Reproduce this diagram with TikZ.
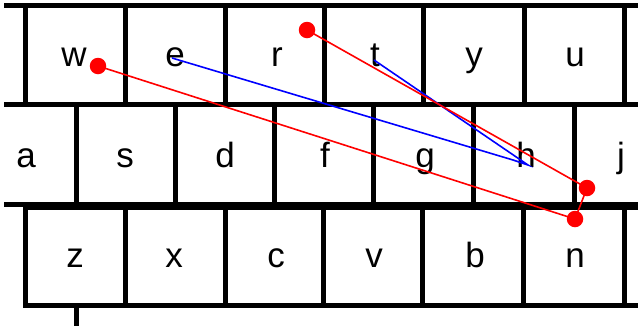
\documentclass[tikz,border=0pt]{standalone}
\usepackage{fontspec}
\setmainfont{Liberation Sans}
\begin{document}
\begin{tikzpicture}[x=1pt,y=-1pt,
  keyedge/.style={draw=black, line width=5pt},
  keylabel/.style={anchor=base, font=\fontsize{35}{40}\selectfont, inner sep=0pt},
  redpath/.style={draw=red, line width=1.6pt},
  bluepath/.style={draw=blue, line width=1.6pt},
  hit/.style={circle, fill=red, minimum size=16.5pt, inner sep=0pt}]
\useasboundingbox (0,0) rectangle (638,325);
\fill[white] (0,0) rectangle (638,325);

% keyboard outline
\begin{scope}
  \clip (4,0) rectangle (638,325);
  % top row
  \foreach \l/\r in {-75/25,25/125,125/225,225/324,324/423,423/524,524/624,624/724}
    \draw[keyedge] (\l,5) rectangle (\r,104);
  % home row
  \foreach \l/\r in {-24/76,76/175,175/274,274/373,373/473,473/574,574/673}
    \draw[keyedge] (\l,104) rectangle (\r,204);
  % bottom row
  \foreach \l/\r in {25/125,125/225,225/323,323/422,422/523,523/624,624/724}
    \draw[keyedge] (\l,207) rectangle (\r,305);
  % space bar
  \draw[keyedge] (76,305) rectangle (720,400);
\end{scope}

% key letters
\node[keylabel] (kw) at (74,66) {w};
\node[keylabel] (ke) at (175,66) {e};
\node[keylabel] (kr) at (277,66) {r};
\node[keylabel] (kt) at (375,66) {t};
\node[keylabel] (ky) at (474,66) {y};
\node[keylabel] (ku) at (575,66) {u};

\node[keylabel] (ka) at (26,167) {a};
\node[keylabel] (ks) at (125,167) {s};
\node[keylabel] (kd) at (225,167) {d};
\node[keylabel] (kf) at (325,167) {f};
\node[keylabel] (kg) at (425,167) {g};
\node[keylabel] (kh) at (526,167) {h};
\node[keylabel] (kj) at (621,167) {j};

\node[keylabel] (kz) at (75,267) {z};
\node[keylabel] (kx) at (174,267) {x};
\node[keylabel] (kc) at (276,267) {c};
\node[keylabel] (kv) at (374,267) {v};
\node[keylabel] (kb) at (475,267) {b};
\node[keylabel] (kn) at (575,267) {n};

% blue trace
\coordinate (be) at (172,58);
\coordinate (bh1) at (513,160);
\coordinate (bh2) at (528,165);
\coordinate (bt) at (374,60);
\draw[bluepath] (be) -- (bh1) -- (bh2) -- (bt);

% red trace with touch points
\node[hit] (hw) at (98,66) {};
\node[hit] (hr) at (307,30) {};
\node[hit] (hj) at (587,188) {};
\node[hit] (hn) at (575,219) {};
\draw[redpath] (hw.center) -- (hn.center) -- (hj.center) -- (hr.center);
\end{tikzpicture}
\end{document}
